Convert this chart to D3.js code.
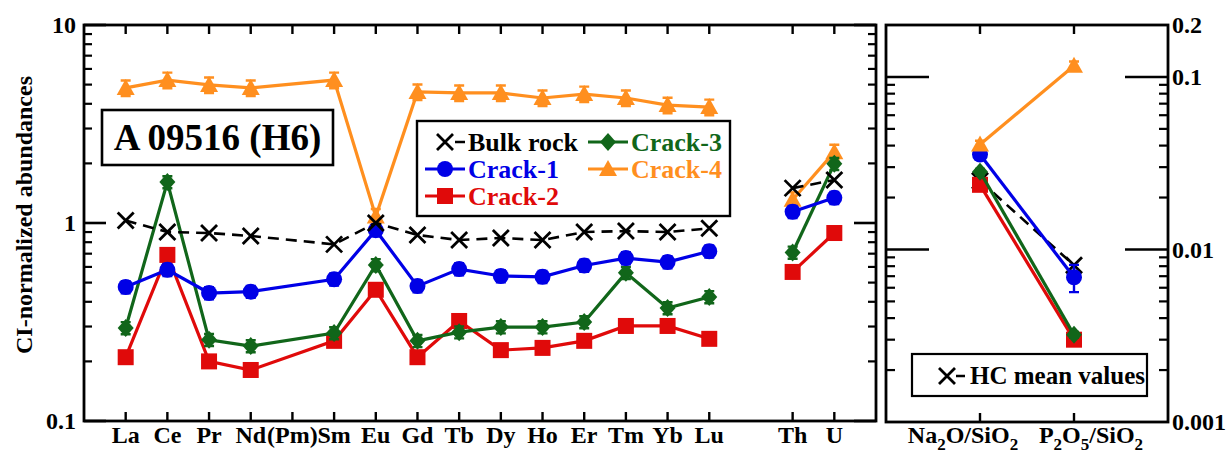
<!DOCTYPE html>
<html>
<head>
<meta charset="utf-8">
<script src="https://cdn.jsdelivr.net/npm/d3@7"></script>
<style>
  html, body { margin: 0; padding: 0; background: #fff; }
  svg { display: block; }
  text { font-family: "Liberation Serif", "Times New Roman", serif; font-weight: bold; fill: #000; }
</style>
</head>
<body>
<svg id="chart" width="1232" height="456"></svg>
<script>
// ---------------- DATA ----------------
const categories = ["La","Ce","Pr","Nd","(Pm)","Sm","Eu","Gd","Tb","Dy","Ho","Er","Tm","Yb","Lu","","Th","U"];
const bulkRock = [1.03,0.90,0.89,0.86,null,0.78,1.00,0.87,0.82,0.84,0.82,0.90,0.91,0.90,0.94,null,1.50,1.65];
const crack1   = [0.475,0.58,0.443,0.45,null,0.52,0.92,0.48,0.585,0.54,0.535,0.61,0.665,0.635,0.72,null,1.14,1.34];
const crack2   = [0.21,0.69,0.20,0.181,null,0.254,0.46,0.21,0.32,0.228,0.234,0.254,0.302,0.302,0.26,null,0.566,0.89];
const crack3   = [0.295,1.61,0.257,0.239,null,0.278,0.614,0.254,0.281,0.298,0.298,0.316,0.56,0.372,0.423,null,0.71,1.99];
const crack4   = [4.81,5.27,4.98,4.81,null,5.27,1.08,4.59,4.54,4.54,4.28,4.48,4.28,3.94,3.85,null,1.31,2.28];
// relative 1-sigma errors
const errRel = [0, 0.07, 0.04, 0.07, 0.09];
// line groups (REE pattern, Th–U)
const lineGroups = [[0,14],[16,17]];
const leftTicks = [0.1, 1, 10];
const leftTickLabels = ["0.1","1","10"];

const oxideLabels = ["Na_2O/SiO_2","P_2O_5/SiO_2"];
const hcMean   = [0.025, 0.0081];
const oxCrack1 = [0.0355, 0.0069];
const oxCrack2 = [0.0237, 0.0030];
const oxCrack3 = [0.0282, 0.0032];
const oxCrack4 = [0.0406, 0.116];
const oxErr    = [[0,0],[0.04,0.18],[0.03,0.04],[0.04,0.04],[0.05,0.06]];
const rightTicks = [0.001, 0.01, 0.1, 0.2];
const rightTickLabels = ["0.001","0.01","0.1","0.2"];

const seriesNames = ["Bulk rock","Crack-1","Crack-2","Crack-3","Crack-4"];
const seriesColors = ["#000000","#0000e6","#e00a0a","#11661a","#ff8f1f"];
const seriesShapes = ["cross","circle","square","diamond","triangle"];

// ---------------- SETUP ----------------
const svg = d3.select("#chart");
const L = {x0: 84, x1: 876, y0: 25, y1: 421};
const R = {x0: 886, x1: 1168, y0: 25, y1: 422};

const xL = d3.scaleLinear().domain([0, 19]).range([L.x0, L.x1]);
const yL = d3.scaleLog().domain([0.1, 10]).range([L.y1, L.y0]);
const xR = d3.scaleLinear().domain([0, 3]).range([R.x0, R.x1]);
const yR = d3.scaleLog().domain([0.001, 0.2]).range([R.y1, R.y0]);

function marker(g, shape, x, y, color) {
  if (shape === "circle") {
    g.append("circle").attr("cx", x).attr("cy", y).attr("r", 8).attr("fill", color);
  } else if (shape === "square") {
    g.append("rect").attr("x", x - 8).attr("y", y - 8).attr("width", 16).attr("height", 16).attr("fill", color);
  } else if (shape === "diamond") {
    g.append("path").attr("d", `M${x},${y-9} L${x+8},${y} L${x},${y+9} L${x-8},${y} Z`).attr("fill", color);
  } else if (shape === "triangle") {
    g.append("path").attr("d", `M${x},${y-9} L${x+9},${y+7} L${x-9},${y+7} Z`).attr("fill", color);
  } else if (shape === "cross") {
    g.append("path").attr("d", `M${x-8},${y-8} L${x+8},${y+8} M${x-8},${y+8} L${x+8},${y-8}`)
      .attr("stroke", color).attr("stroke-width", 2.8).attr("fill", "none");
  }
}

function errorBar(g, x, yScale, v, e, color) {
  if (!e) return;
  const yt = yScale(v * (1 + e)), yb = yScale(v * (1 - e));
  g.append("path").attr("d", `M${x},${yt} L${x},${yb} M${x-5},${yt} L${x+5},${yt} M${x-5},${yb} L${x+5},${yb}`)
    .attr("stroke", color).attr("stroke-width", 2.4).attr("fill", "none");
}

// ---------------- LEFT PANEL ----------------
const gL = svg.append("g");
const leftSeries = [bulkRock, crack1, crack2, crack3, crack4];
const drawOrderL = [4, 2, 3, 1, 0];
const line = d3.line();

drawOrderL.forEach(si => {
  const vals = leftSeries[si];
  const color = seriesColors[si];
  const gs = gL.append("g");
  lineGroups.forEach(([a, b]) => {
    const pts = [];
    for (let i = a; i <= b; i++) if (vals[i] != null) pts.push([xL(i + 1), yL(vals[i])]);
    gs.append("path").attr("d", line(pts)).attr("fill", "none").attr("stroke", color)
      .attr("stroke-width", si === 0 ? 2.6 : 3.2)
      .attr("stroke-dasharray", si === 0 ? "11,7" : null);
  });
  vals.forEach((v, i) => {
    if (v == null) return;
    errorBar(gs, xL(i + 1), yL, v, errRel[si], color);
    marker(gs, seriesShapes[si], xL(i + 1), yL(v), color);
  });
});

// frame
gL.append("rect").attr("x", L.x0).attr("y", L.y0).attr("width", L.x1 - L.x0).attr("height", L.y1 - L.y0)
  .attr("fill", "none").attr("stroke", "#000").attr("stroke-width", 2.8);

// x ticks (top and bottom)
categories.forEach((c, i) => {
  if (c === "") return;
  const x = xL(i + 1);
  gL.append("line").attr("x1", x).attr("x2", x).attr("y1", L.y0).attr("y2", L.y0 + 9).attr("stroke", "#000").attr("stroke-width", 2.4);
  gL.append("line").attr("x1", x).attr("x2", x).attr("y1", L.y1).attr("y2", L.y1 - 9).attr("stroke", "#000").attr("stroke-width", 2.4);
  gL.append("text").attr("x", x).attr("y", 443).attr("text-anchor", "middle").attr("font-size", 24).text(c);
});

// y ticks
const minorL = [];
[0.1, 1].forEach(d => { for (let k = 2; k <= 9; k++) minorL.push(d * k); });
minorL.forEach(v => {
  const y = yL(v);
  gL.append("line").attr("x1", L.x0).attr("x2", L.x0 + 8).attr("y1", y).attr("y2", y).attr("stroke", "#000").attr("stroke-width", 2.2);
  gL.append("line").attr("x1", L.x1).attr("x2", L.x1 - 8).attr("y1", y).attr("y2", y).attr("stroke", "#000").attr("stroke-width", 2.2);
});
leftTicks.forEach((v, i) => {
  const y = yL(v);
  gL.append("line").attr("x1", L.x0).attr("x2", L.x0 + 22).attr("y1", y).attr("y2", y).attr("stroke", "#000").attr("stroke-width", 2.6);
  gL.append("line").attr("x1", L.x1).attr("x2", L.x1 - 22).attr("y1", y).attr("y2", y).attr("stroke", "#000").attr("stroke-width", 2.6);
  gL.append("text").attr("x", 76).attr("y", y).attr("dy", "0.35em").attr("text-anchor", "end").attr("font-size", 24).text(leftTickLabels[i]);
});

// y title
svg.append("text").attr("transform", "translate(32,215) rotate(-90)").attr("text-anchor", "middle")
  .attr("font-size", 24).text("CI-normalized abundances");

// sample label box
gL.append("rect").attr("x", 102).attr("y", 110).attr("width", 231).attr("height", 55)
  .attr("fill", "#fff").attr("stroke", "#000").attr("stroke-width", 2.6);
gL.append("text").attr("x", 217.5).attr("y", 150).attr("text-anchor", "middle").attr("font-size", 37).text("A 09516 (H6)");

// legend
const lg = gL.append("g");
lg.append("rect").attr("x", 417).attr("y", 121).attr("width", 313).attr("height", 95)
  .attr("fill", "#fff").attr("stroke", "#000").attr("stroke-width", 2.4);
const legendPos = [[425, 142], [425, 169], [425, 196], [588, 142], [588, 169]];
const legendOrder = [0, 1, 2, 3, 4];
legendOrder.forEach((si, k) => {
  const [lx, ly] = legendPos[k];
  const color = seriesColors[si];
  const seg = lg.append("g");
  seg.append("line").attr("x1", lx).attr("x2", lx + 40).attr("y1", ly).attr("y2", ly)
    .attr("stroke", color).attr("stroke-width", si === 0 ? 2.6 : 3.2)
    .attr("stroke-dasharray", si === 0 ? "0,30,10" : null);
  marker(seg, seriesShapes[si], lx + 20, ly, color);
  lg.append("text").attr("x", lx + 43).attr("y", ly).attr("dy", "0.33em").attr("font-size", 26)
    .style("fill", color).text(seriesNames[si]);
});

// ---------------- RIGHT PANEL ----------------
const gR = svg.append("g");
const rightSeries = [hcMean, oxCrack1, oxCrack2, oxCrack3, oxCrack4];
const drawOrderR = [0, 2, 3, 1, 4];
drawOrderR.forEach(si => {
  const vals = rightSeries[si];
  const color = seriesColors[si];
  const gs = gR.append("g");
  gs.append("path").attr("d", line(vals.map((v, i) => [xR(i + 1), yR(v)]))).attr("fill", "none").attr("stroke", color)
    .attr("stroke-width", si === 0 ? 2.6 : 3.2)
    .attr("stroke-dasharray", si === 0 ? "11,7" : null);
  vals.forEach((v, i) => {
    errorBar(gs, xR(i + 1), yR, v, oxErr[si][i], color);
    marker(gs, seriesShapes[si], xR(i + 1), yR(v), color);
  });
});

gR.append("rect").attr("x", R.x0).attr("y", R.y0).attr("width", R.x1 - R.x0).attr("height", R.y1 - R.y0)
  .attr("fill", "none").attr("stroke", "#000").attr("stroke-width", 2.8);

oxideLabels.forEach((lab, i) => {
  const x = xR(i + 1);
  gR.append("line").attr("x1", x).attr("x2", x).attr("y1", R.y0).attr("y2", R.y0 + 9).attr("stroke", "#000").attr("stroke-width", 2.4);
  gR.append("line").attr("x1", x).attr("x2", x).attr("y1", R.y1).attr("y2", R.y1 - 9).attr("stroke", "#000").attr("stroke-width", 2.4);
  const t = gR.append("text").attr("x", x + (i === 0 ? -17 : 17)).attr("y", 443).attr("text-anchor", "middle").attr("font-size", 24);
  const parts = lab.split("_");
  parts.forEach((p, j) => {
    if (j === 0) { t.append("tspan").text(p); return; }
    t.append("tspan").attr("dy", 7).attr("font-size", 17).text(p[0]);
    t.append("tspan").attr("dy", -7).text(p.slice(1));
  });
});

const minorR = [];
[0.001, 0.01, 0.1].forEach(d => { for (let k = 2; k <= 9; k++) { const v = d * k; if (v < 0.2 - 1e-9) minorR.push(v); } });
minorR.forEach(v => {
  const y = yR(v);
  gR.append("line").attr("x1", R.x0).attr("x2", R.x0 + 9).attr("y1", y).attr("y2", y).attr("stroke", "#000").attr("stroke-width", 2.2);
  gR.append("line").attr("x1", R.x1).attr("x2", R.x1 - 9).attr("y1", y).attr("y2", y).attr("stroke", "#000").attr("stroke-width", 2.2);
});
[0.01, 0.1].forEach(v => {
  const y = yR(v);
  gR.append("line").attr("x1", R.x0).attr("x2", R.x0 + 43).attr("y1", y).attr("y2", y).attr("stroke", "#000").attr("stroke-width", 2.6);
  gR.append("line").attr("x1", R.x1).attr("x2", R.x1 - 43).attr("y1", y).attr("y2", y).attr("stroke", "#000").attr("stroke-width", 2.6);
});
rightTicks.forEach((v, i) => {
  gR.append("text").attr("x", 1172).attr("y", yR(v)).attr("dy", "0.35em").attr("font-size", 24).text(rightTickLabels[i]);
});

// HC legend
gR.append("rect").attr("x", 912).attr("y", 354).attr("width", 235).attr("height", 42)
  .attr("fill", "#fff").attr("stroke", "#000").attr("stroke-width", 2.2);
gR.append("line").attr("x1", 937).attr("x2", 965).attr("y1", 376).attr("y2", 376)
  .attr("stroke", "#000").attr("stroke-width", 2.6).attr("stroke-dasharray", "0,19,9");
marker(gR, "cross", 947, 376, "#000");
gR.append("text").attr("x", 970).attr("y", 376).attr("dy", "0.33em").attr("font-size", 25).text("HC mean values");
</script>
</body>
</html>
